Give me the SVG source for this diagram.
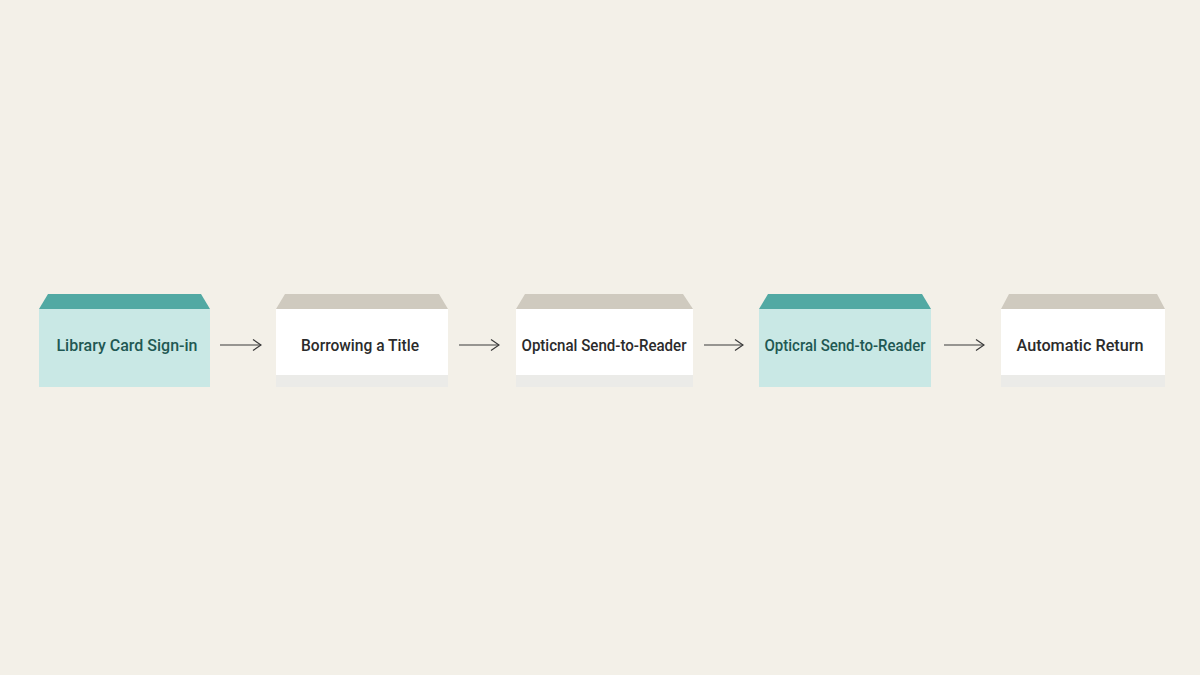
<svg xmlns="http://www.w3.org/2000/svg" width="1200" height="675" viewBox="0 0 1200 675">
<defs>
<style>
.bg{fill:#f3f0e8}
.tealTop{fill:#52a9a3}
.tealBody{fill:#c9e8e5}
.grayTop{fill:#cfcabf}
.whiteBody{fill:#ffffff}
.foot{fill:#ebebe8}
.lbl{font-family:Roboto,"Liberation Sans",sans-serif;font-size:16px;font-weight:500;text-anchor:middle}
.tl{fill:#1f5853}
.dl{fill:#2b2b2b}
.conn{stroke:#3a3a3a;stroke-width:1.2;fill:none}
</style>
<marker id="ah" viewBox="0 0 10 12" refX="9" refY="6" markerWidth="10" markerHeight="12" markerUnits="userSpaceOnUse" orient="auto">
<path d="M1,0.5 L9,6 L1,11.5" fill="none" stroke="#3a3a3a" stroke-width="1.2"/>
</marker>
</defs>
<rect class="bg" x="0" y="0" width="1200" height="675"/>
<g id="node1">
<polygon class="tealTop" points="48,294 201,294 210,309 39,309"/>
<rect class="tealBody" x="39" y="309" width="171" height="78"/>
<text class="lbl tl" x="127" y="351">Library Card Sign-in</text>
</g>
<g id="node2">
<polygon class="grayTop" points="285,294 439,294 448,309 276,309"/>
<rect class="whiteBody" x="276" y="309" width="172" height="66"/>
<rect class="foot" x="276" y="375" width="172" height="12"/>
<text class="lbl dl" x="360" y="351" textLength="118" lengthAdjust="spacingAndGlyphs">Borrowing a Title</text>
</g>
<g id="node3">
<polygon class="grayTop" points="525,294 683,294 693,309 516,309"/>
<rect class="whiteBody" x="516" y="309" width="177" height="66"/>
<rect class="foot" x="516" y="375" width="177" height="12"/>
<text class="lbl dl" x="604" y="351" textLength="165" lengthAdjust="spacingAndGlyphs">Opticnal Send-to-Reader</text>
</g>
<g id="node4">
<polygon class="tealTop" points="768,294 922,294 931,309 759,309"/>
<rect class="tealBody" x="759" y="309" width="172" height="78"/>
<text class="lbl tl" x="845" y="351" textLength="161" lengthAdjust="spacingAndGlyphs">Opticral Send-to-Reader</text>
</g>
<g id="node5">
<polygon class="grayTop" points="1009,294 1157,294 1165,309 1001,309"/>
<rect class="whiteBody" x="1001" y="309" width="164" height="66"/>
<rect class="foot" x="1001" y="375" width="164" height="12"/>
<text class="lbl dl" x="1080" y="351" textLength="127" lengthAdjust="spacingAndGlyphs">Automatic Return</text>
</g>
<g id="connectors">
<line class="conn" x1="220" y1="345" x2="261" y2="345" marker-end="url(#ah)"/>
<line class="conn" x1="459" y1="345" x2="499" y2="345" marker-end="url(#ah)"/>
<line class="conn" x1="704" y1="345" x2="743" y2="345" marker-end="url(#ah)"/>
<line class="conn" x1="944" y1="345" x2="984" y2="345" marker-end="url(#ah)"/>
</g>
</svg>
